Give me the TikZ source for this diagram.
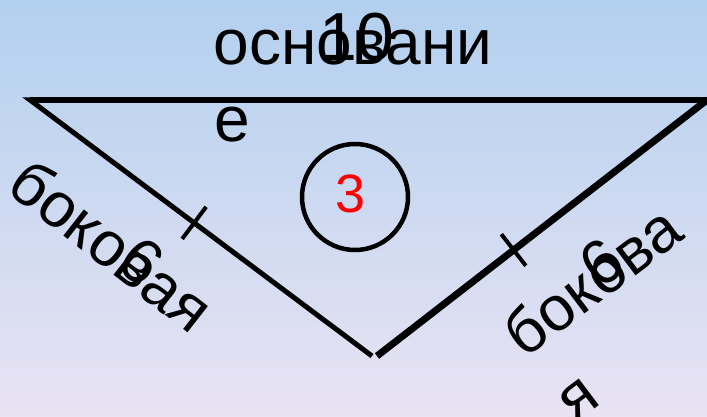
\documentclass[tikz,border=0pt]{standalone}
\usepackage{fontspec}
\setmainfont{Liberation Sans}
\usetikzlibrary{calc}
\definecolor{bgtop}{HTML}{B2D0EF}
\definecolor{bgbot}{HTML}{E9E3F3}
\begin{document}
\begin{tikzpicture}[x=1pt,y=-1pt,
  big/.style={font=\fontsize{64}{64}\selectfont, inner sep=0pt},
  side/.style={font=\fontsize{63}{64}\selectfont, inner sep=0pt},
  tick/.style={line width=4pt}]
\shade[top color=bgtop,bottom color=bgbot] (0,0) rectangle (707,417);
\useasboundingbox (0,0) rectangle (707,417);
\coordinate (A) at (30,100);
\coordinate (B) at (707,100);
\coordinate (C) at (372,356);
\coordinate (C2) at (377,356);
\draw[line width=5.5pt] (A) -- (B);
\draw[line width=5pt, line join=miter] (B) -- (A) -- (C);
\draw[line width=7pt] (C2) -- (B);
\coordinate (P) at ($(A)!0.48!(C)$);
\coordinate (Q) at ($(C2)!0.414!(B)$);
\draw[tick] ($(P)!20pt!90:(C)$) -- ($(P)!20pt!-90:(C)$);
\draw[tick] ($(Q)!20pt!90:(B)$) -- ($(Q)!20pt!-90:(B)$);
\node[draw, circle, line width=4.5pt, minimum size=106pt, inner sep=0pt] (circ) at (355,197) {};
\node[big, red, font=\fontsize{54}{54}\selectfont] (three) at (351,194) {3};
\node[big, anchor=base] (osn) at (353,65) {основани};
\node[big, anchor=base] (e) at (232,142) {е};
\node[big, anchor=base, font=\fontsize{68}{68}\selectfont] (ten) at (357,61) {10};
\node[side, rotate=-38] (lside) at (112,245) {боковая};
\node[side, rotate=-38] (lsix) at (142,261) {6};
\node[side, rotate=37] (rside) at (592,280) {бокова};
\node[side, rotate=37] (rya) at (579,400) {я};
\node[side, rotate=37] (rsix) at (601,263) {6};
\end{tikzpicture}
\end{document}
